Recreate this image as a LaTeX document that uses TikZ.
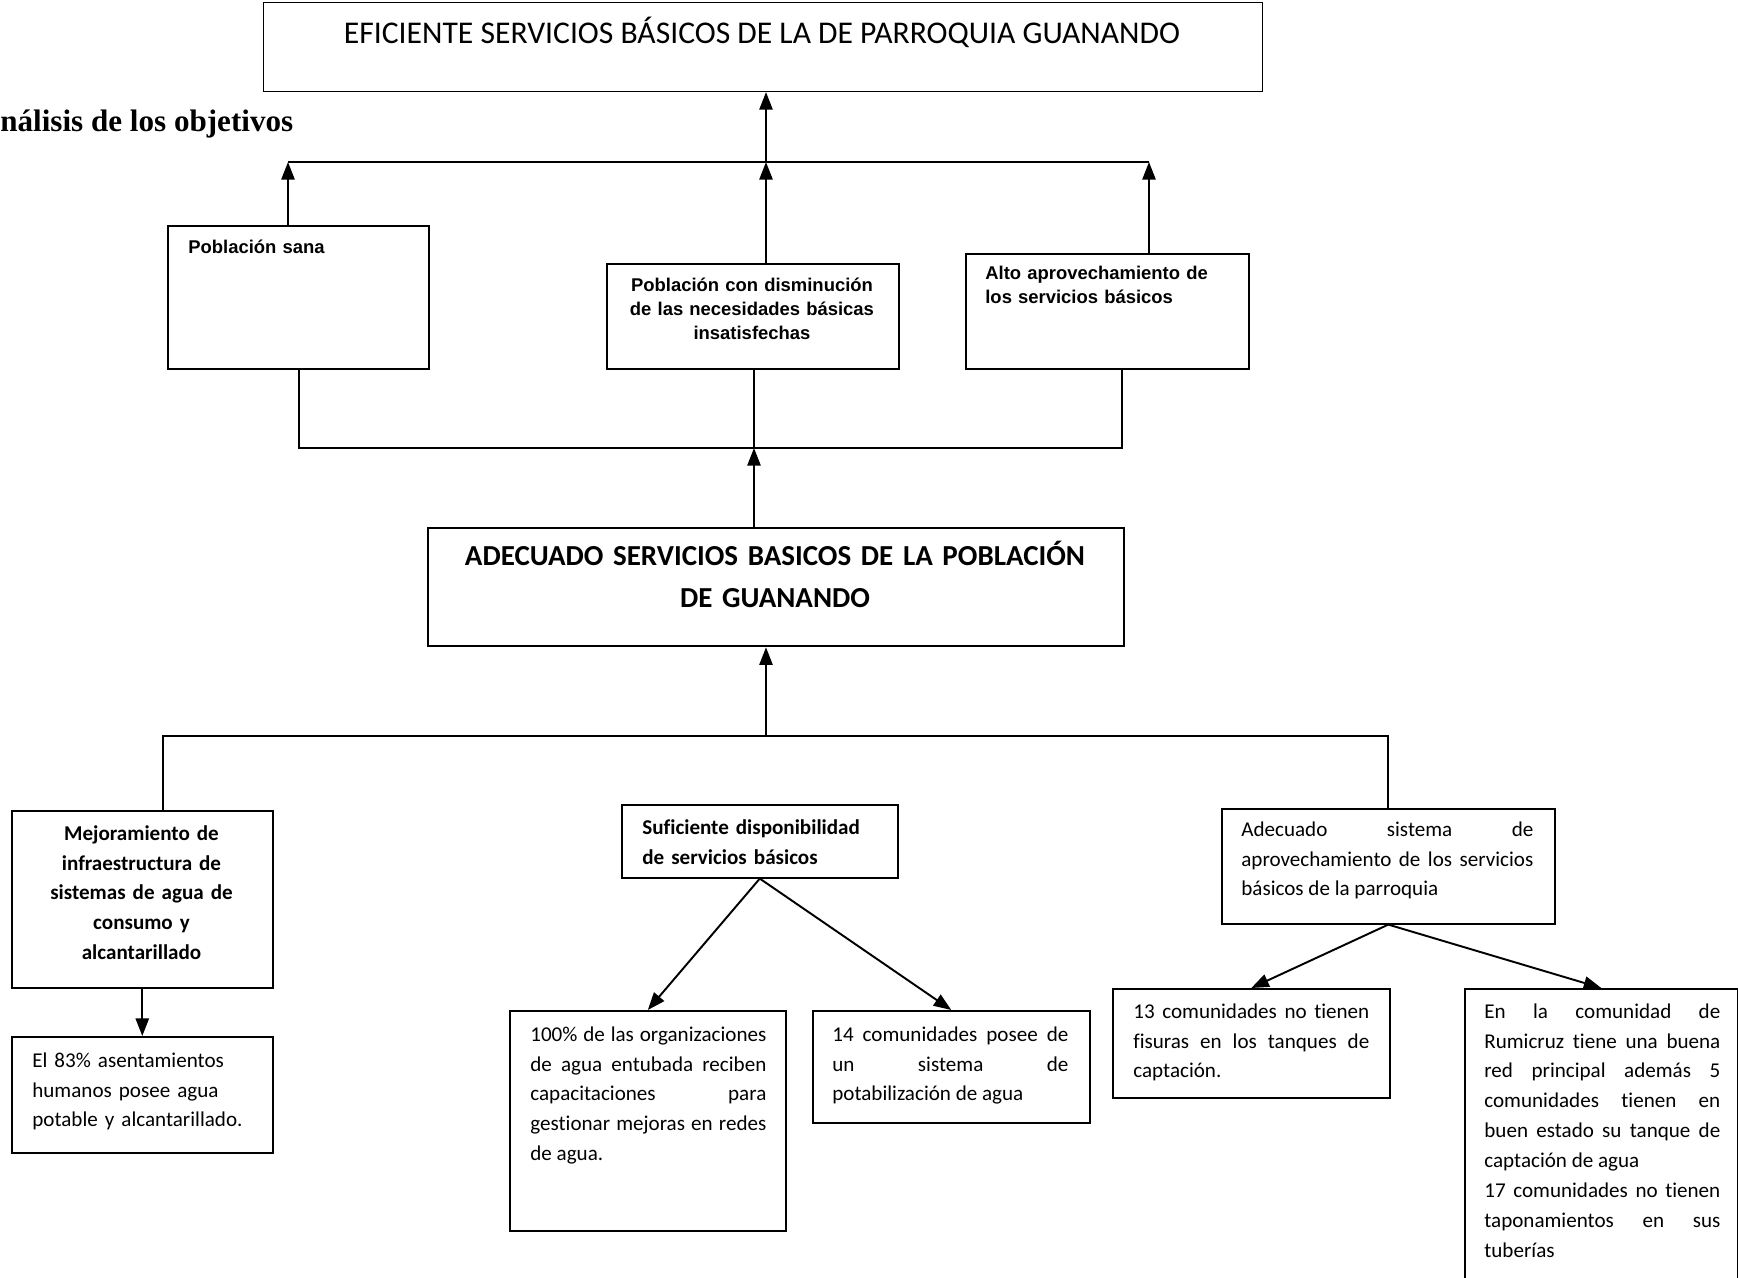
\documentclass[tikz,border=0pt]{standalone}
\usepackage{fontspec}
\setmainfont{Carlito}[Ligatures=NoCommon]
\newfontfamily\arialfont{Liberation Sans}
\newfontfamily\timesfont{Liberation Serif}
\usetikzlibrary{arrows.meta}
\hyphenpenalty=10000

\tikzset{
  caja/.style 2 args={draw, line width=0.9pt, anchor=north west, inner sep=0pt,
    minimum width=#1*0.02cm, minimum height=#2*0.02cm},
  cuerpo/.style={inner sep=0pt, anchor=base west, text width=#1*0.02cm,
    align=justify, font=\fontsize{12}{17.07}\selectfont\sloppy},
  negrita/.style={cuerpo=#1, font=\bfseries\fontsize{12}{17.07}\selectfont},
  arialtxt/.style={inner sep=0pt, anchor=base west, text width=#1*0.02cm,
    align=left, font=\arialfont\bfseries\fontsize{10.5}{13.9}\selectfont},
  flecha/.style={line width=1.1pt, ->},
  linea/.style={line width=1pt},
  fina/.style={line width=0.6pt},
}

\begin{document}
\begin{tikzpicture}[x=0.02cm, y=-0.02cm, >={Triangle[length=10pt,width=7.5pt]}]
\useasboundingbox[fill=white] (0,0) rectangle (1738,1278);

% fin
\node[caja={999}{89}, line width=0.6pt] (meta) at (263,2) {};
\node[anchor=base, inner sep=0pt, font=\fontsize{18}{22}\selectfont] (metatxt) at (762,43)
  {EFICIENTE SERVICIOS BÁSICOS DE LA DE PARROQUIA GUANANDO};
\node[anchor=base west, inner sep=0pt, font=\timesfont\bfseries\fontsize{17.7}{21}\selectfont]
  (titulo) at (0,131) {nálisis de los objetivos};

% fines intermedios
\node[caja={261}{143}] (sana) at (167,225) {};
\node[arialtxt=230] (sanatxt) at (188,253) {Población sana};
\node[caja={292}{105}] (con) at (606,263) {};
\node[arialtxt=280, align=center, anchor=base] (contxt) at (752,291)
  {Población con disminución\\de las  necesidades básicas\\insatisfechas};
\node[caja={283}{115}] (alto) at (965,253) {};
\node[arialtxt=250] (altotxt) at (985,279) {Alto aprovechamiento de\\los servicios básicos};

% objetivo central
\node[caja={696}{118}, line width=1.3pt] (adecuado) at (427,527) {};
\node[anchor=base, inner sep=0pt, text width=680*0.02cm, align=center,
  font=\bfseries\fontsize{16.5}{24.4}\selectfont] (adecuadotxt) at (775,565)
  {ADECUADO SERVICIOS BASICOS DE LA POBLACIÓN\\DE GUANANDO};

% medios
\node[caja={261}{177}] (mejora) at (11,810) {};
\node[negrita=250, align=center, anchor=base] (mejoratxt) at (141.5,840)
  {Mejoramiento de\\infraestructura de\\sistemas de agua de\\consumo y\\alcantarillado};
\node[caja={261}{116}] (dato1) at (11,1036) {};
\node[cuerpo=240, align=left] (dato1txt) at (32,1067)
  {El 83\% asentamientos\\humanos posee  agua\\potable y alcantarillado.};

\node[caja={276}{73}] (sufi) at (621,804) {};
\node[negrita=250, align=left] (sufitxt) at (642,834) {Suficiente disponibilidad\\de servicios básicos};
\node[caja={276}{220}] (dato2) at (509,1010) {};
\node[cuerpo=236] (dato2txt) at (530,1041)
  {100\% de las organizaciones\linebreak de agua entubada reciben\linebreak
   capacitaciones para\linebreak gestionar mejoras en redes\linebreak de agua.};
\node[caja={277}{112}] (dato3) at (812,1010) {};
\node[cuerpo=236] (dato3txt) at (832,1041)
  {14 comunidades posee  de\linebreak un sistema de\linebreak potabilización de agua};

\node[caja={333}{115}] (sistema) at (1221,808) {};
\node[cuerpo=292] (sistematxt) at (1241,836)
  {Adecuado sistema de\linebreak aprovechamiento de los servicios\linebreak básicos de la parroquia};
\node[caja={277}{109}] (dato4) at (1112,988) {};
\node[cuerpo=236] (dato4txt) at (1133,1018)
  {13 comunidades no tienen\linebreak fisuras en los tanques de\linebreak captación.};
\node[caja={273}{320}] (dato5) at (1464,988) {};
\node[cuerpo=236] (dato5txt) at (1484,1018)
  {En la comunidad de\linebreak Rumicruz tiene una buena\linebreak red principal además 5\linebreak
   comunidades tienen en\linebreak buen estado su tanque de\linebreak captación de agua\\
   17 comunidades no tienen\linebreak taponamientos en sus\linebreak tuberías};

% conectores
\coordinate (l1) at (288,162);
\coordinate (l2) at (766,162);
\coordinate (l3) at (1149,162);
\coordinate (b1) at (299,448);
\coordinate (b2) at (754,448);
\coordinate (b3) at (1122,448);
\coordinate (c1) at (163,736);
\coordinate (c2) at (766,736);
\coordinate (c3) at (1388,736);

\draw[linea] (l1) -- (l3);
\draw[flecha] (sana.north -| l1) -- (l1);
\draw[flecha] (con.north -| l2) -- (l2);
\draw[flecha] (alto.north -| l3) -- (l3);
\draw[flecha] (l2) -- (meta.south -| l2);
\draw[fina] (sana.south -| b1) -- (b1) -- (b3) -- (alto.south -| b3);
\draw[fina] (con.south -| b2) -- (b2);
\draw[flecha] (adecuado.north -| b2) -- (b2);
\draw[linea] (mejora.north -| c1) -- (c1) -- (c3) -- (sistema.north -| c3);
\draw[flecha] (c2) -- (adecuado.south -| c2);
\draw[flecha] (mejora) -- (dato1);
\draw[flecha] (sufi.south) -- (dato2.north);
\draw[flecha] (sufi.south) -- (dato3.north);
\draw[flecha] (sistema.south) -- (dato4.north);
\draw[flecha] (sistema.south) -- (dato5.north);
\end{tikzpicture}
\end{document}
